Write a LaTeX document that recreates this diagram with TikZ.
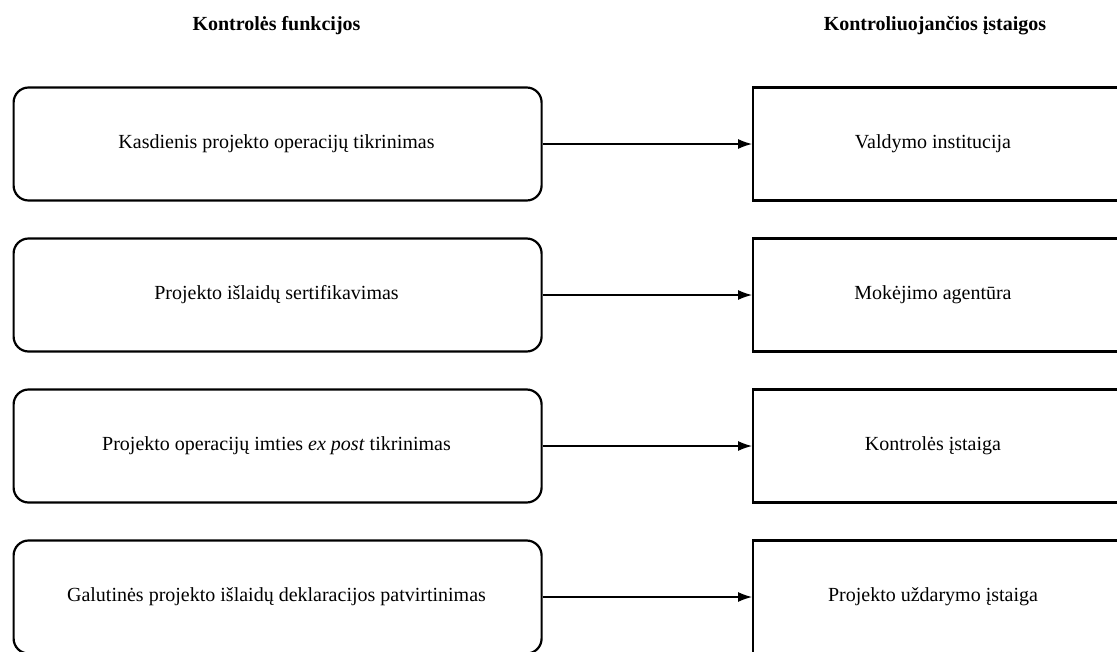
\documentclass[tikz,border=0pt]{standalone}
\usepackage{fontspec}
\setmainfont{Liberation Serif}
\usetikzlibrary{arrows.meta}
\begin{document}
\begin{tikzpicture}[x=1pt,y=-1pt,
  funcbox/.style={draw,line width=2.2pt,rounded corners=15pt,minimum width=528pt,minimum height=113pt,anchor=west,inner sep=0pt},
  instbox/.style={draw,line width=2.2pt,minimum width=370pt,minimum height=113pt,anchor=west,inner sep=0pt},
  lbl/.style={font=\fontsize{20}{24}\selectfont},
  ttl/.style={font=\bfseries\fontsize{20}{24}\selectfont},
  conn/.style={-{Latex[length=14pt,width=10pt]},line width=1.2pt}]
\useasboundingbox (0,0) rectangle (1117,651);
\node[ttl] (t1) at (276.5,26) {Kontrolės funkcijos};
\node[ttl] (t2) at (935,26) {Kontroliuojančios įstaigos};
\foreach \i/\y/\a/\b in {1/144/{Kasdienis projekto operacijų tikrinimas}/{Valdymo institucija},
  2/295/{Projekto išlaidų sertifikavimas}/{Mokėjimo agentūra},
  3/446/{Projekto operacijų imties \textit{ex post} tikrinimas}/{Kontrolės įstaiga},
  4/597/{Galutinės projekto išlaidų deklaracijos patvirtinimas}/{Projekto uždarymo įstaiga}}{
  \node[funcbox] (f\i) at (12.5,\y) {};
  \node[lbl] (fl\i) at (276.5,\y) {\a};
  \node[instbox] (s\i) at (752,\y) {};
  \node[lbl] (sl\i) at (933,\y) {\b};
  \draw[conn] (f\i.east) -- (s\i.west);
}
\end{tikzpicture}
\end{document}
